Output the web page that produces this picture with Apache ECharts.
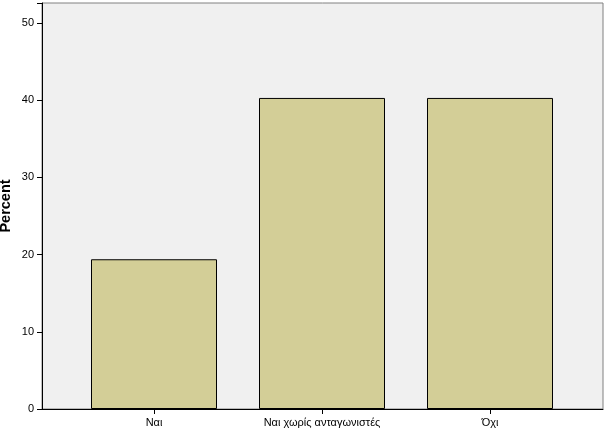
<!DOCTYPE html>
<html><head><meta charset="utf-8">
<script src="https://cdn.jsdelivr.net/npm/echarts@6/dist/echarts.min.js"></script>
<style>html,body{margin:0;padding:0;background:#fff}#c{width:615px;height:433px}</style>
</head><body><div id="c"></div>
<script>
var categories = ['Ναι', 'Ναι χωρίς ανταγωνιστές', 'Όχι'];
var percents = [19.4, 40.3, 40.3];
var yTicks = [0, 10, 20, 30, 40, 50];

var chart = echarts.init(document.getElementById('c'));
var font = 'Liberation Sans, Arial, sans-serif';
var yMax = 52.6;
chart.setOption({
  animation: false,
  grid: [
    {left: 42, right: 12, top: 3, bottom: 24, show: true, backgroundColor: '#f0f0f0', borderColor: '#808080', borderWidth: 1, containLabel: false, outerBoundsMode: 'none'},
    {left: 70, right: 41, top: 3, bottom: 24, containLabel: false, outerBoundsMode: 'none'}
  ],
  xAxis: [
    {type: 'category', gridIndex: 0, data: [''], axisLine: {show: true, lineStyle: {color: '#000', width: 1}}, axisTick: {show: false}, axisLabel: {show: false}},
    {type: 'category', gridIndex: 1, data: categories, boundaryGap: true,
     axisLine: {show: false},
     axisTick: {show: true, alignWithLabel: true, length: 5, lineStyle: {color: '#000'}},
     axisLabel: {color: '#000', fontFamily: font, fontSize: 11, margin: 8}}
  ],
  yAxis: [
    {type: 'value', gridIndex: 0, min: 0, max: yMax, interval: 10,
     name: 'Percent', nameLocation: 'middle', nameGap: 29, nameMoveOverlap: false,
     nameTextStyle: {fontFamily: font, fontSize: 14.5, fontWeight: 'bold', color: '#000'},
     axisLine: {show: true, lineStyle: {color: '#000'}},
     axisTick: {show: true, length: 5, lineStyle: {color: '#000'}},
     splitLine: {show: false},
     axisLabel: {color: '#000', fontFamily: font, fontSize: 11, margin: 8,
       formatter: function (v) { return yTicks.indexOf(v) >= 0 ? String(v) : ''; }}},
    {type: 'value', gridIndex: 1, min: 0, max: yMax, show: false, splitLine: {show: false}}
  ],
  series: [{
    type: 'bar', xAxisIndex: 1, yAxisIndex: 1, data: percents, barWidth: 126,
    itemStyle: {color: '#d3ce97', borderColor: '#000', borderWidth: 1}
  }]
});
</script></body></html>
